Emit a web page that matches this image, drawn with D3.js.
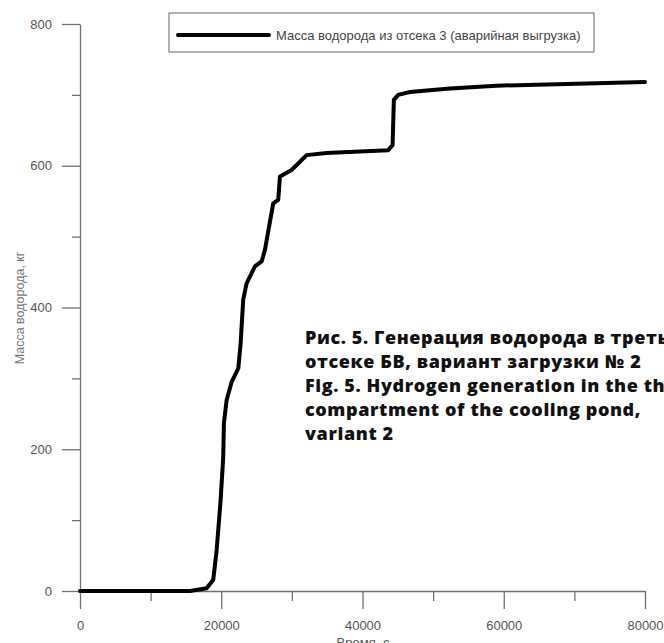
<!DOCTYPE html>
<html>
<head>
<meta charset="utf-8">
<script src="https://cdn.jsdelivr.net/npm/d3@7"></script>
<style>
body { margin: 0; background: #fff; }
svg { display: block; font-family: "Liberation Sans", Arial, sans-serif; }
</style>
</head>
<body>
<svg width="664" height="643"></svg>
<script>
// time, s  and  hydrogen mass, kg
var timeS = [0, 15570, 17930, 18870, 19350, 19910, 20280, 20380, 20760, 21470, 22410, 22750,
  23110, 23590, 24770, 25720, 26180, 27360, 28070, 28310, 29960, 32090, 34920, 39630,
  43640, 44260, 44440, 45050, 46710, 52370, 58980, 80000];
var massKg = [0, 0, 4, 16, 58, 128, 189, 237, 269, 295, 314, 350,
  411, 434, 458, 465, 481, 547, 552, 585, 594, 615, 618, 620,
  622, 629, 693, 700, 704, 709, 713, 718];

var xTicks = [0, 20000, 40000, 60000, 80000];
var xMinor = [10000, 30000, 50000, 70000];
var yTicks = [0, 200, 400, 600, 800];
var yMinor = [100, 300, 500, 700];

var legendLabel = "Масса водорода из отсека 3 (аварийная выгрузка)";
var xTitle = "Время, с";
var yTitle = "Масса водорода, кг";
var caption = ["Рис. 5. Генерация водорода в третьем",
  "отсеке БВ, вариант загрузки № 2",
  "Fig. 5. Hydrogen generation in the third",
  "compartment of the cooling pond,",
  "variant 2"];

var axisColor = "#707070";

var svg = d3.select("svg");

var x = d3.scaleLinear().domain([0, 80000]).range([80, 645]);
var y = d3.scaleLinear().domain([0, 800]).range([591, 24]);

// minor ticks first
svg.append("g")
  .attr("transform", "translate(0,591)")
  .call(d3.axisBottom(x).tickValues(xMinor).tickSize(10).tickFormat(""))
  .call(function(g) { g.select(".domain").remove(); });
svg.append("g")
  .attr("transform", "translate(80,0)")
  .call(d3.axisLeft(y).tickValues(yMinor).tickSize(8).tickFormat(""))
  .call(function(g) { g.select(".domain").remove(); });

var xAxis = svg.append("g")
  .attr("transform", "translate(0,591)")
  .call(d3.axisBottom(x).tickValues(xTicks).tickSize(18).tickSizeOuter(0).tickPadding(12).tickFormat(d3.format("d")));
var yAxis = svg.append("g")
  .attr("transform", "translate(80,0)")
  .call(d3.axisLeft(y).tickValues(yTicks).tickSize(18).tickSizeOuter(0).tickPadding(10).tickFormat(d3.format("d")));

svg.selectAll(".tick line, .domain")
  .attr("stroke", axisColor)
  .attr("stroke-width", 1.3);
svg.selectAll(".tick text")
  .attr("fill", "#555")
  .style("font-size", "13px")
  .style("font-family", "'Liberation Sans', Arial, sans-serif");

// axis titles
svg.append("text")
  .attr("x", 363).attr("y", 647)
  .attr("text-anchor", "middle")
  .attr("fill", "#555")
  .style("font-size", "13px")
  .text(xTitle);

svg.append("text")
  .attr("transform", "translate(24,308) rotate(-90)")
  .attr("text-anchor", "middle")
  .attr("fill", "#777")
  .style("font-size", "12.5px")
  .text(yTitle);

// curve
var line = d3.line()
  .x(function(d, i) { return x(timeS[i]); })
  .y(function(d, i) { return y(massKg[i]); });

svg.append("path")
  .datum(massKg)
  .attr("d", line)
  .attr("fill", "none")
  .attr("stroke", "#000")
  .attr("stroke-width", 4)
  .attr("stroke-linejoin", "round")
  .attr("stroke-linecap", "round");

// legend
var legend = svg.append("g");
legend.append("rect")
  .attr("x", 169).attr("y", 13)
  .attr("width", 425).attr("height", 39)
  .attr("fill", "#fff")
  .attr("stroke", "#666")
  .attr("stroke-width", 1);
legend.append("line")
  .attr("x1", 178).attr("x2", 269)
  .attr("y1", 35).attr("y2", 35)
  .attr("stroke", "#000")
  .attr("stroke-width", 4)
  .attr("stroke-linecap", "round");
legend.append("text")
  .attr("x", 276).attr("y", 39.5)
  .attr("fill", "#444")
  .style("font-size", "13px")
  .text(legendLabel);

// figure caption overlay
svg.append("g")
  .selectAll("text")
  .data(caption)
  .enter().append("text")
  .attr("x", 305)
  .attr("y", function(d, i) { return 344 + i * 24; })
  .attr("fill", "#111")
  .style("font-family", "'Open Sans', 'Liberation Sans', sans-serif")
  .style("font-weight", "800")
  .style("font-size", "18px")
  .style("letter-spacing", "0.6px")
  .text(function(d) { return d; });
</script>
</body>
</html>
